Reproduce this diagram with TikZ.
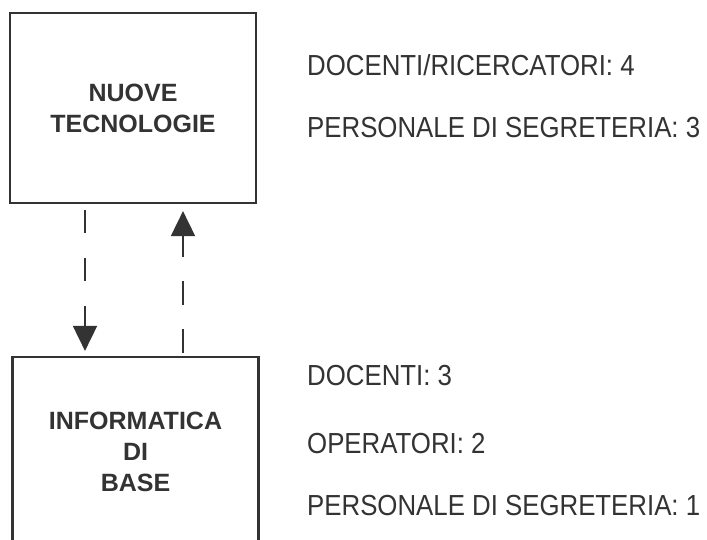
\documentclass[tikz,border=0pt]{standalone}
\usepackage{fontspec}
\setmainfont{Liberation Sans}
\newfontfamily\labfont[FakeStretch=0.89]{Liberation Sans}
\usetikzlibrary{arrows.meta}
\definecolor{ink}{HTML}{333333}
\begin{document}
\begin{tikzpicture}[x=1pt,y=-1pt,
  unitbox/.style={draw=ink,line width=2.2pt,minimum width=246pt,minimum height=190pt,inner sep=0pt,
    align=center,text=ink,font=\fontsize{25}{31}\selectfont\bfseries},
  info/.style={anchor=base west,inner sep=0pt,text=ink,font=\fontsize{29}{34}\labfont},
  link/.style={draw=ink,line width=1.8pt,dash pattern=on 23pt off 25pt,
    -{Triangle[width=24pt,length=25pt]}}]
\useasboundingbox (0,0) rectangle (707,539);
\fill[white] (0,0) rectangle (707,539);
\node[unitbox] (nt) at (133,108) {NUOVE\\TECNOLOGIE};
\node[unitbox] (ib) at (135.5,452) {INFORMATICA\\DI\\BASE};
\node[info] (t1) at (307,75) {DOCENTI/RICERCATORI: 4};
\node[info] (t2) at (307,137) {PERSONALE DI SEGRETERIA: 3};
\node[info] (b1) at (307,385) {DOCENTI: 3};
\node[info] (b2) at (307,453) {OPERATORI: 2};
\node[info] (b3) at (307,515) {PERSONALE DI SEGRETERIA: 1};
\draw[link,shorten <=6pt,shorten >=5pt] (nt.south -| 85,0) -- (ib.north -| 85,0);
\draw[link,dash pattern=on 24pt off 24pt,shorten <=3pt,shorten >=7pt] (ib.north -| 183,0) -- (nt.south -| 183,0);
\end{tikzpicture}
\end{document}
